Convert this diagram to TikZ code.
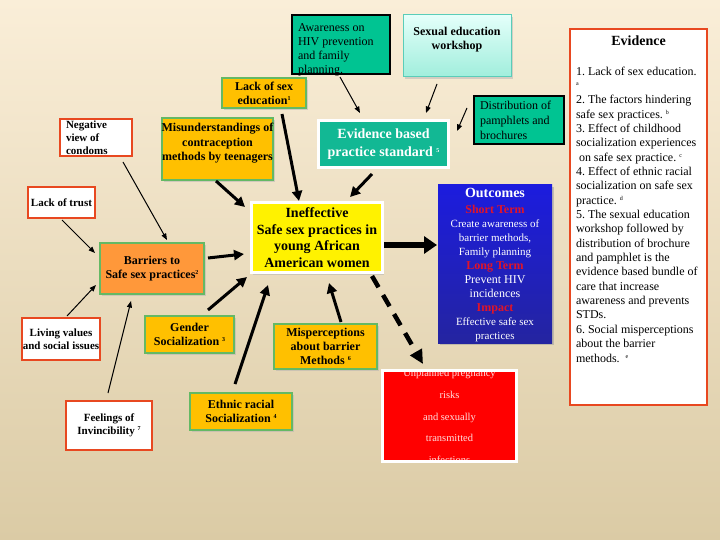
\documentclass[tikz,border=0pt]{standalone}
\usepackage{fontspec}
\setmainfont{Liberation Serif}
\usetikzlibrary{arrows.meta,shadows,calc}
\definecolor{bgtop}{RGB}{250,238,216}
\definecolor{bgbot}{RGB}{219,203,165}
\definecolor{teal1}{RGB}{0,196,146}
\definecolor{teal2}{RGB}{18,184,148}
\definecolor{gold}{RGB}{255,192,0}
\definecolor{orng}{RGB}{255,152,58}
\definecolor{redb}{RGB}{232,72,32}
\definecolor{grnb}{RGB}{100,185,100}
\definecolor{cyanT}{RGB}{228,255,250}
\definecolor{cyanB}{RGB}{160,238,220}
\definecolor{cyanD}{RGB}{90,205,185}
\definecolor{blueT}{RGB}{28,28,222}
\definecolor{blueB}{RGB}{36,36,160}
\definecolor{redtxt}{RGB}{225,20,40}
\definecolor{pinktxt}{RGB}{255,222,222}
\newcommand\fs[2]{\fontsize{#1}{#2}\selectfont}
\newcommand\sups[1]{\raisebox{4pt}{\fs{6}{6}#1}}
\frenchspacing
\tikzset{
  box/.style={inner sep=0pt, align=center, line width=1.2pt},
  goldbox/.style={box, fill=gold, draw=grnb, font=\bfseries\fs{12}{14},
    drop shadow={shadow xshift=1.5pt, shadow yshift=-2pt, fill=black!30}},
  whitebox/.style={box, fill=white, draw=redb, line width=2pt, font=\bfseries\fs{11}{13}},
  tealbox/.style={box, fill=teal1, draw=black, line width=1.2pt},
  thickarrow/.style={line width=3pt, -{Triangle[length=10pt,width=10pt]}},
  thinarrow/.style={line width=1pt, -{Triangle[length=6.5pt,width=5pt]}},
}
\begin{document}
\begin{tikzpicture}[x=1pt,y=-1pt]
\useasboundingbox (0,0) rectangle (720,540);
\fill[top color=bgtop, bottom color=bgbot] (0,0) rectangle (720,540);

% top teal / cyan boxes
\node[tealbox, minimum width=98, minimum height=59] (aw) at (341,44.5)
  {\parbox[c][59pt][t]{86pt}{\raggedright\fs{12}{14}\rule{0pt}{16.5pt}Awareness on\\HIV prevention\\and family\\planning.}};
\node[box, top color=cyanT, bottom color=cyanB, draw=cyanD, line width=1pt,
  drop shadow={shadow xshift=1.5pt, shadow yshift=-2pt, fill=black!30},
  minimum width=108, minimum height=62] (sx) at (457,46)
  {\parbox[c][62pt][t]{104pt}{\centering\bfseries\fs{12}{14}\rule{0pt}{21pt}Sexual education\\workshop}};
\node[tealbox, minimum width=90, minimum height=48] (dist) at (519,120)
  {\parbox[c][48pt][t]{78pt}{\raggedright\fs{12}{15}\rule{0pt}{14pt}Distribution of\\pamphlets and\\brochures}};
\node[box, fill=teal2, draw=white, line width=3pt, minimum width=130, minimum height=47,
  text=white, font=\bfseries\fs{14}{18},
  drop shadow={shadow xshift=1.5pt, shadow yshift=-2pt, fill=black!30}] (ebp) at (383.5,144)
  {Evidence based\\practice standard \sups{5}};

% gold boxes
\node[goldbox, minimum width=84, minimum height=30] (lse) at (264,93) {Lack of sex\\education\sups{1}};
\node[goldbox, minimum width=111, minimum height=62] (mis) at (217.5,149)
  {\parbox[c][62pt][t]{111pt}{\centering\bfseries\fs{12}{14.5}\rule{0pt}{14pt}\makebox[111pt]{Misunderstandings of}\\contraception\\\makebox[111pt]{methods by teenagers}}};
\node[goldbox, minimum width=89, minimum height=37] (gen) at (189.5,334.5) {Gender\\Socialization \sups{3}};
\node[goldbox, minimum width=103, minimum height=45] (mp) at (325.5,346.5) {Misperceptions\\about barrier\\Methods \sups{6}};
\node[goldbox, minimum width=102, minimum height=37, font=\bfseries\fs{12}{13.5}] (eth) at (241,411.5) {Ethnic racial\\Socialization \sups{4}};
\node[goldbox, fill=orng, minimum width=104, minimum height=51] (bar) at (152,268.5) {Barriers to\\Safe sex practices\sups{2}};

% white boxes
\node[whitebox, minimum width=72, minimum height=37] (neg) at (96,137.5)
  {\parbox[c][37pt][t]{60pt}{\raggedright\bfseries\fs{11}{13}\rule{0pt}{10pt}Negative\\view of\\condoms}};
\node[whitebox, minimum width=67, minimum height=31] (lot) at (61.5,202.5) {Lack of trust};
\node[whitebox, minimum width=78, minimum height=42] (liv) at (61,339) {Living values\\\makebox[76pt]{and social issues}};
\node[whitebox, minimum width=86, minimum height=49] (fee) at (109,425.5) {Feelings of\\Invincibility \sups{7}};

% central box
\node[box, fill=yellow, draw=white, line width=3pt, minimum width=131, minimum height=70,
  font=\bfseries\fs{14}{16.7},
  drop shadow={shadow xshift=1.5pt, shadow yshift=-2pt, fill=black!30}] (ine) at (317,237.5)
  {Ineffective\\Safe sex practices in\\young African\\American women};

% outcomes
\node[box, top color=blueT, bottom color=blueB, draw=none, minimum width=114, minimum height=158,
  drop shadow={shadow xshift=1.5pt, shadow yshift=-2pt, fill=black!40}] (out) at (495,264) {};
\node[inner sep=0pt, align=center, text=white, font=\fs{11}{14}] (outt) at ($(out.center)+(0,1.5)$)
  {{\bfseries\fs{14}{14}Outcomes}\\[2pt]
   {\color{redtxt}\bfseries\fs{12}{14}Short Term}\\
   Create awareness of\\barrier methods,\\Family planning\\
   {\color{redtxt}\bfseries\fs{12}{14}Long Term}\\
   {\fs{12}{14}Prevent HIV}\\{\fs{12}{14}incidences}\\
   {\color{redtxt}\bfseries\fs{12}{14}Impact}\\
   Effective safe sex\\practices};

% red box
\node[box, fill=red, minimum width=132, minimum height=89,
  drop shadow={shadow xshift=1.5pt, shadow yshift=-2pt, fill=black!30}] (rb) at (449.5,416) {};
\begin{scope}
  \clip (rb.north west) rectangle (rb.south east);
  \node[inner sep=0pt, align=center, text=pinktxt, font=\fs{10.5}{21.8}] (rbt) at ($(rb.center)+(0,0.5)$)
    {Unplanned pregnancy\\risks\\and sexually\\transmitted\\infections};
\end{scope}
\draw[white, line width=3pt] (rb.north west) rectangle (rb.south east);

% evidence box
\node[box, fill=white, draw=redb, line width=2pt, minimum width=137, minimum height=376] (evd) at (638.5,217)
  {\parbox[c][376pt][t]{125pt}{{\centering\bfseries\fs{14}{14}\rule{0pt}{17pt}Evidence\par}\vspace{14.65pt}%
   {\raggedright\fs{12}{14.35}1. Lack of sex education.\\
   \sups{a}\\
   2. The factors hindering\\
   safe sex practices. \sups{b}\\
   3. Effect of childhood\\
   socialization experiences\\
   \hspace*{3pt}on safe sex practice. \sups{c}\\
   4. Effect of ethnic racial\\
   socialization on safe sex\\
   practice. \sups{d}\\
   5. The sexual education\\
   workshop followed by\\
   distribution of brochure\\
   and pamphlet is the\\
   evidence based bundle of\\
   care that increase\\
   awareness and prevents\\
   STDs.\\
   6. Social misperceptions\\
   about the barrier\\
   methods.\ \ \sups{e}\par}}};

% connectors
\draw[thinarrow] ($(aw.center)+(-1,32.5)$) -- ($(ebp.center)+(-23.5,-31)$);
\draw[thinarrow] ($(sx.center)+(-20,38)$) -- ($(ebp.center)+(42.5,-31)$);
\draw[thinarrow] ($(dist.center)+(-52,-12)$) -- ($(ebp.center)+(73.5,-13)$);
\draw[thickarrow] ($(lse.center)+(18,21)$) -- ($(ine.center)+(-18,-36.5)$);
\draw[thickarrow] ($(ebp.center)+(-11.5,30)$) -- ($(ine.center)+(33,-40.5)$);
\draw[thickarrow] ($(mis.center)+(-1.5,32)$) -- ($(ine.center)+(-72,-30.5)$);
\draw[thinarrow] ($(neg.center)+(27,24.5)$) -- ($(bar.center)+(15,-28.5)$);
\draw[thinarrow] ($(lot.center)+(0.5,17.5)$) -- ($(bar.center)+(-57,-15.5)$);
\draw[thickarrow] ($(bar.center)+(56,-10.5)$) -- ($(ine.center)+(-73,16.5)$);
\draw[thickarrow] ($(gen.center)+(18.5,-24.5)$) -- ($(ine.center)+(-70,39.5)$);
\draw[thinarrow] ($(liv.center)+(6,-23)$) -- ($(bar.center)+(-56,16.5)$);
\draw[thinarrow] ($(fee.center)+(-1,-32.5)$) -- ($(bar.center)+(-21,32.5)$);
\draw[thickarrow] ($(eth.center)+(-6,-27.5)$) -- ($(ine.center)+(-49,47.5)$);
\draw[thickarrow] ($(mp.center)+(15.5,-24.5)$) -- ($(ine.center)+(12,45.5)$);
\draw[line width=5.5pt, -{Triangle[length=13pt,width=17pt]}] ($(ine.center)+(67,7.5)$) -- ($(out.center)+(-58,-19)$);
\draw[line width=4.5pt, dash pattern=on 13pt off 9pt, -{Triangle[length=14pt,width=13pt]}] ($(ine.center)+(55,38.5)$) -- ($(rb.center)+(-26.5,-52)$);
\end{tikzpicture}
\end{document}
